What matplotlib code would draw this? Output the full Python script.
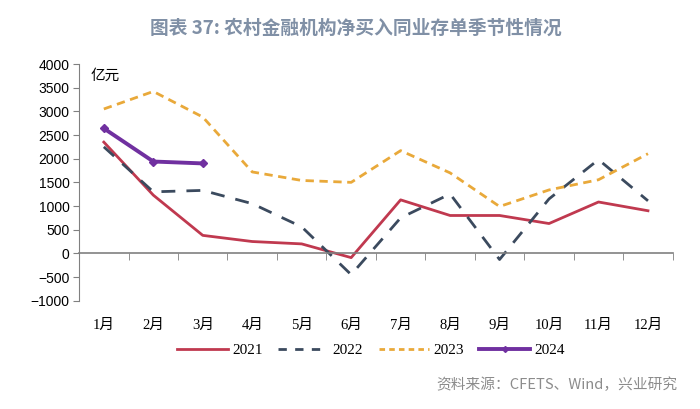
import numpy as np
from matplotlib import pyplot as plt
from matplotlib.lines import Line2D

months = ['%d月' % i for i in range(1, 13)]
y2021 = [2350, 1230, 380, 250, 200, -90, 1130, 800, 800, 630, 1085, 900]
y2022 = [2250, 1300, 1330, 1050, 560, -450, 750, 1255, -130, 1150, 1980, 1110]
y2023 = [3050, 3420, 2880, 1720, 1540, 1500, 2170, 1700, 990, 1340, 1555, 2105]
y2024 = [2640, 1940, 1900]

c2021 = '#C0394F'
c2022 = '#3B4A5E'
c2023 = '#E9A93A'
c2024 = '#7030A0'

cjk = ['Noto Sans CJK SC', 'DejaVu Sans']
serif = ['Liberation Serif', 'Noto Sans CJK SC']

fig = plt.figure(figsize=(7, 4.09), dpi=100)
ax = fig.add_axes([0.113, 0.2648, 0.848, 0.5787])

x = np.arange(len(months))
ax.plot(x, y2021, color=c2021, lw=2.0)
ax.plot(x, y2022, color=c2022, lw=2.0, dashes=(5, 4))
ax.plot(x, y2023, color=c2023, lw=2.0, dashes=(3, 2))
ax.plot(x[:len(y2024)], y2024, color=c2024, lw=2.8, marker='D', ms=4)

ax.set_xlim(-0.5, 11.5)
ax.set_ylim(-1000, 4000)
ax.set_yticks(np.arange(-1000, 4001, 500))
ax.tick_params(axis='y', direction='out', length=4, color='#808080',
               labelsize=10, pad=3)
for t in ax.get_yticklabels():
    t.set_family(['Liberation Sans', 'DejaVu Sans'])

ax.spines['top'].set_visible(False)
ax.spines['right'].set_visible(False)
ax.spines['left'].set_color('#808080')
ax.spines['bottom'].set_position(('data', 0))
ax.spines['bottom'].set_color('#808080')
ax.spines['bottom'].set_linewidth(1.2)

ax.set_xticks(x)
ax.set_xticklabels(months, family=serif, fontsize=10.5)
ax.set_xticks(np.arange(-0.5, 12, 1), minor=True)
ax.tick_params(axis='x', which='major', length=0, pad=47)
ax.tick_params(axis='x', which='minor', direction='out', length=5,
               color='#808080')

ax.text(0.02, 0.95, '亿元', transform=ax.transAxes, family=cjk,
        fontsize=10.5, va='center', ha='left')

fig.text(0.508, 0.932, '图表 37: 农村金融机构净买入同业存单季节性情况',
         family=cjk, fontsize=13.5, weight='bold', color='#8090A6',
         ha='center', va='center')

handles = [
    Line2D([], [], color=c2021, lw=2.0),
    Line2D([], [], color=c2022, lw=2.0, dashes=(3, 3)),
    Line2D([], [], color=c2023, lw=2.0, dashes=(2, 1.5)),
    Line2D([], [], color=c2024, lw=2.8, marker='D', ms=3),
]
leg = fig.legend(handles, ['2021', '2022', '2023', '2024'], loc='center',
                 bbox_to_anchor=(0.53, 0.144), ncol=4, frameon=False,
                 handlelength=3.3, handletextpad=0.3, columnspacing=1.0,
                 prop={'family': serif, 'size': 11})

fig.text(0.968, 0.059, '资料来源：CFETS、Wind，兴业研究', family=cjk,
         fontsize=10.6, color='#8C8C8C', ha='right', va='center')

plt.savefig('out.png', dpi=100)
